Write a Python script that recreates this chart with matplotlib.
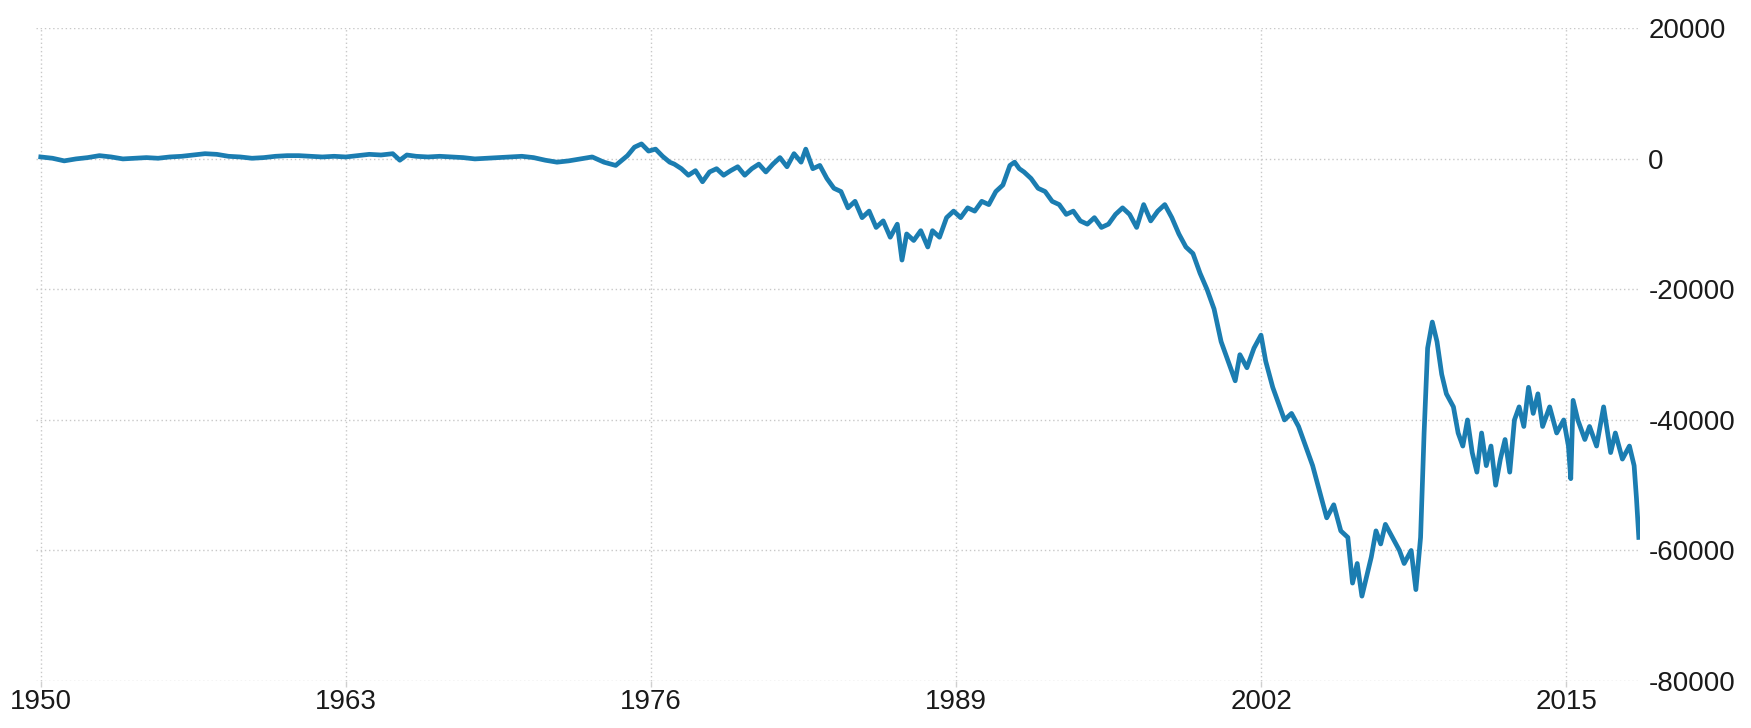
import matplotlib
matplotlib.use("Agg")
import matplotlib.pyplot as plt

plt.rcParams['font.family'] = ['Liberation Sans', 'DejaVu Sans']

# ---- data (USD million) ----
years = [
    1950.0, 1950.5, 1951.0, 1951.5, 1952.0, 1952.5, 1953.0, 1953.5, 1954.0, 1954.5,
    1955.0, 1955.5, 1956.0, 1956.5, 1957.0, 1957.5, 1958.0, 1958.5, 1959.0, 1959.5,
    1960.0, 1960.5, 1961.0, 1961.5, 1962.0, 1962.5, 1963.0, 1963.5, 1964.0, 1964.5,
    1965.0, 1965.3, 1965.6, 1966.0, 1966.5, 1967.0, 1967.5, 1968.0, 1968.5, 1969.0,
    1969.5, 1970.0, 1970.5, 1971.0, 1971.5, 1972.0, 1972.5, 1973.0, 1973.5, 1974.0,
    1974.5, 1975.0, 1975.3, 1975.6, 1975.9, 1976.2, 1976.5, 1976.8,
    1977.0, 1977.3, 1977.6, 1977.9, 1978.2, 1978.5, 1978.8, 1979.1, 1979.4, 1979.7,
    1980.0, 1980.3, 1980.6, 1980.9, 1981.2, 1981.5, 1981.8, 1982.1, 1982.4, 1982.6,
    1982.9, 1983.2, 1983.5, 1983.8, 1984.1, 1984.4, 1984.7, 1985.0, 1985.3, 1985.6,
    1985.9, 1986.2, 1986.5, 1986.7, 1986.9, 1987.2, 1987.5, 1987.8, 1988.0, 1988.3,
    1988.6, 1988.9, 1989.2, 1989.5, 1989.8, 1990.1, 1990.4, 1990.7, 1991.0, 1991.3,
    1991.5, 1991.7, 1991.9, 1992.2, 1992.5, 1992.8, 1993.1, 1993.4, 1993.7, 1994.0,
    1994.3, 1994.6, 1994.9, 1995.2, 1995.5, 1995.8, 1996.1, 1996.4, 1996.7, 1997.0,
    1997.3, 1997.6, 1997.9, 1998.2, 1998.5, 1998.8, 1999.1, 1999.4, 1999.7, 2000.0,
    2000.3, 2000.6, 2000.9, 2001.1, 2001.4, 2001.7, 2002.0, 2002.2, 2002.5, 2002.8,
    2003.0, 2003.3, 2003.6, 2003.9, 2004.2, 2004.5, 2004.8, 2005.1, 2005.4, 2005.7,
    2005.9, 2006.1, 2006.3, 2006.5, 2006.7, 2006.9, 2007.1, 2007.3, 2007.6, 2007.9,
    2008.1, 2008.4, 2008.6, 2008.8, 2008.95, 2009.1, 2009.3, 2009.5, 2009.7, 2009.9,
    2010.2, 2010.4, 2010.6, 2010.8, 2011.0, 2011.2, 2011.4, 2011.6, 2011.8, 2012.0,
    2012.2, 2012.4, 2012.6, 2012.8, 2013.0, 2013.2, 2013.4, 2013.6, 2013.8, 2014.0,
    2014.3, 2014.6, 2014.9, 2015.1, 2015.2, 2015.3, 2015.5, 2015.8, 2016.0, 2016.3,
    2016.6, 2016.9, 2017.1, 2017.4, 2017.7, 2017.9, 2018.0, 2018.1,
]
balance = [
    300, 100, -300, 0, 200, 500, 300, 0, 100, 200,
    100, 300, 400, 600, 800, 700, 400, 300, 100, 200,
    400, 500, 500, 400, 300, 400, 300, 500, 700, 600,
    800, -200, 600, 400, 300, 400, 300, 200, 0, 100,
    200, 300, 400, 200, -200, -500, -300, 0, 300, -500,
    -1000, 500, 1800, 2300, 1200, 1500, 400, -500,
    -800, -1500, -2500, -1800, -3500, -2000, -1500, -2500, -1800, -1200,
    -2500, -1500, -800, -2000, -800, 200, -1200, 800, -500, 1500,
    -1500, -1000, -3000, -4500, -5000, -7500, -6500, -9000, -8000, -10500,
    -9500, -12000, -10000, -15500, -11500, -12500, -11000, -13500, -11000, -12000,
    -9000, -8000, -9000, -7500, -8000, -6500, -7000, -5000, -4000, -1000,
    -500, -1500, -2000, -3000, -4500, -5000, -6500, -7000, -8500, -8000,
    -9500, -10000, -9000, -10500, -10000, -8500, -7500, -8500, -10500, -7000,
    -9500, -8000, -7000, -9000, -11500, -13500, -14500, -17500, -20000, -23000,
    -28000, -31000, -34000, -30000, -32000, -29000, -27000, -31000, -35000, -38000,
    -40000, -39000, -41000, -44000, -47000, -51000, -55000, -53000, -57000, -58000,
    -65000, -62000, -67000, -64000, -61000, -57000, -59000, -56000, -58000, -60000,
    -62000, -60000, -66000, -58000, -42000, -29000, -25000, -28000, -33000, -36000,
    -38000, -42000, -44000, -40000, -45000, -48000, -42000, -47000, -44000, -50000,
    -46000, -43000, -48000, -40000, -38000, -41000, -35000, -39000, -36000, -41000,
    -38000, -42000, -40000, -44000, -49000, -37000, -40000, -43000, -41000, -44000,
    -38000, -45000, -42000, -46000, -44000, -47000, -52000, -58000,
]
x_ticks = [1950, 1963, 1976, 1989, 2002, 2015]
y_ticks = [-80000, -60000, -40000, -20000, 0, 20000]

# ---- figure ----
fig = plt.figure(figsize=(17.51, 7.28), dpi=100)
ax = fig.add_axes([0.0206, 0.0646, 0.9160, 0.8964])

ax.plot(years, balance, color='#1b7db1', linewidth=3.4, solid_joinstyle='round')

ax.set_xlim(1949.8, 2018.15)
ax.set_ylim(-80000, 20000)
ax.set_xticks(x_ticks)
ax.set_xticklabels([str(t) for t in x_ticks])
ax.set_yticks(y_ticks)
ax.set_yticklabels([str(t) for t in y_ticks])
ax.yaxis.tick_right()

for s in ax.spines.values():
    s.set_visible(False)

ax.grid(True, color='#c8c8c8', linestyle=(0, (1, 2)), linewidth=1.0)
ax.set_axisbelow(True)
ax.tick_params(axis='x', length=4, width=1, color='#d0d0d0', pad=2,
               labelsize=20, labelcolor='#1a1a1a')
ax.tick_params(axis='y', length=0, pad=6, labelsize=20, labelcolor='#1a1a1a')

fig.savefig('out.png', dpi=100, facecolor='white')
